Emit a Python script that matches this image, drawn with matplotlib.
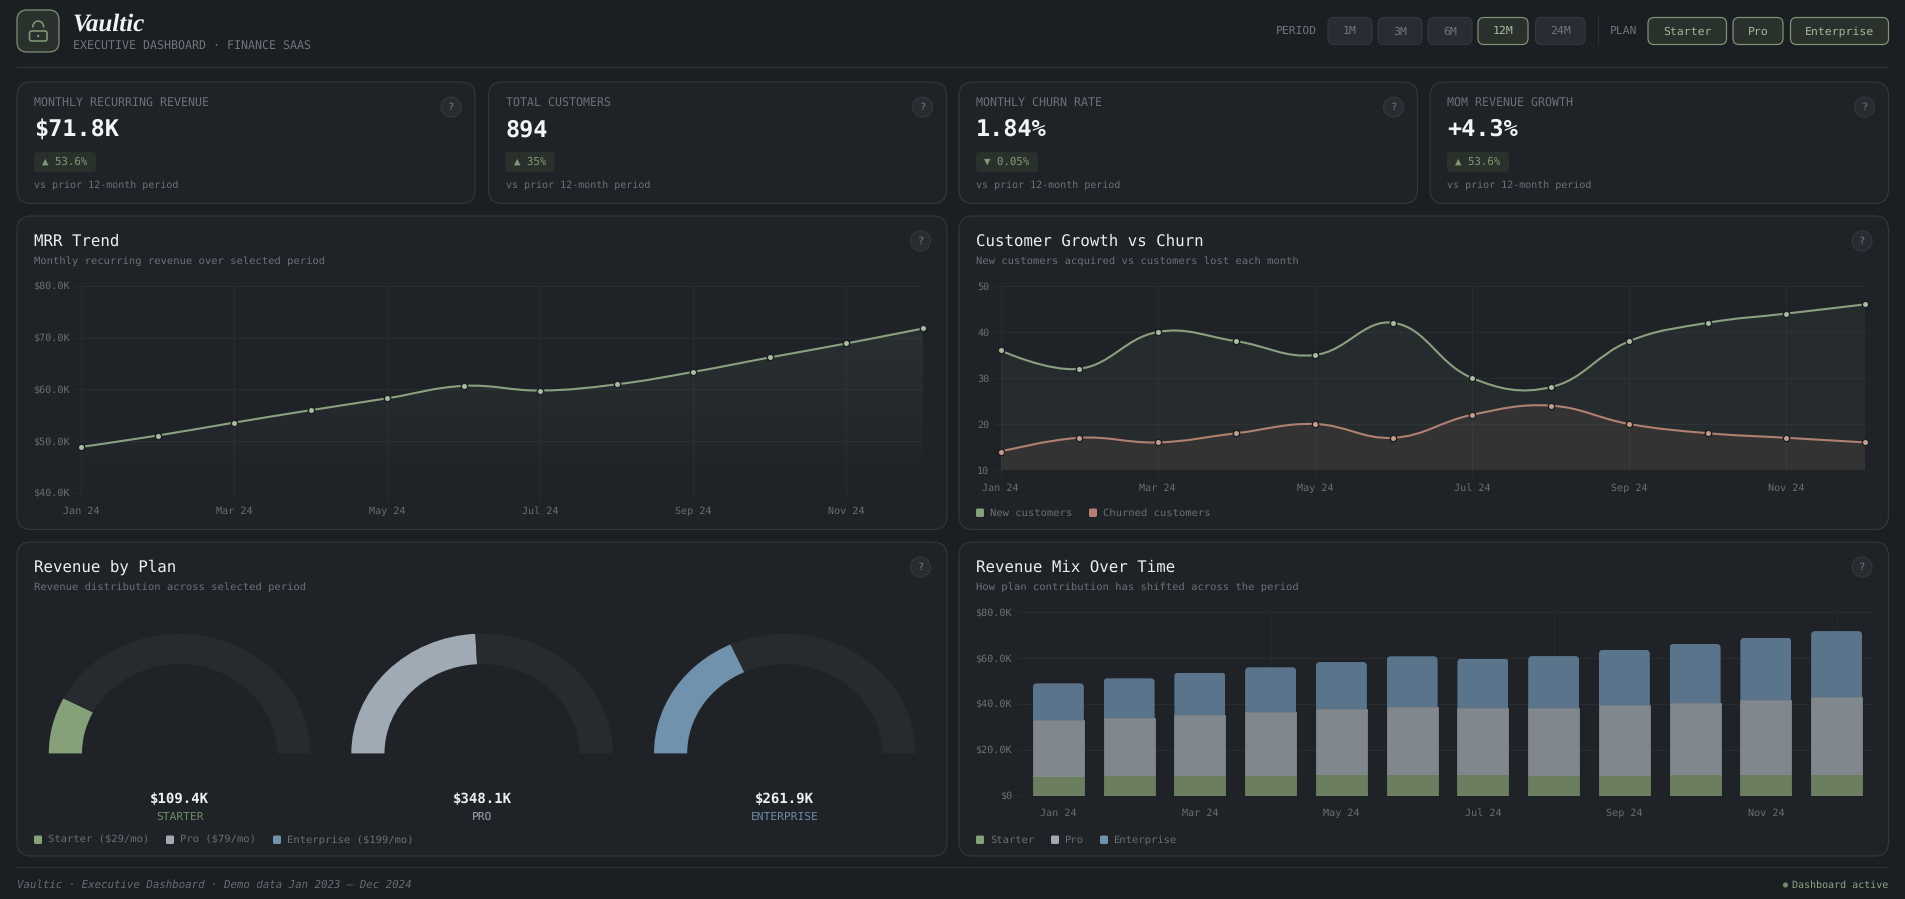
import numpy as np
import matplotlib
matplotlib.use("Agg")
import matplotlib.pyplot as plt
from matplotlib.patches import FancyBboxPatch, PathPatch, Circle, Arc
from matplotlib.path import Path
from matplotlib.transforms import ScaledTranslation

W, H = 1905, 899
BG = "#1b1e22"
CARD = "#1f2328"
CARD_EDGE = "#33373c"
GRID = "#282c31"
GREEN = "#8ba080"
RED = "#b08070"
SLATE = "#a0aab4"
BLUE = "#7092ad"
TICK = "#6c6e6c"
MUTED = "#6b7177"

plt.rcParams["font.family"] = ["DejaVu Sans Mono"]
plt.rcParams["text.hinting"] = "no_hinting"

months = ["Jan 24", "Feb 24", "Mar 24", "Apr 24", "May 24", "Jun 24",
          "Jul 24", "Aug 24", "Sep 24", "Oct 24", "Nov 24", "Dec 24"]
mrr = [48.9, 51.1, 53.6, 56.0, 58.3, 60.7, 59.8, 61.0, 63.4, 66.2, 68.9, 71.8]
new_customers = [36, 32, 40, 38, 35, 42, 30, 28, 38, 42, 44, 46]
churned = [14, 17, 16, 18, 20, 17, 22, 24, 20, 18, 17, 16]
starter_rev = [8.6, 9.0, 9.0, 9.0, 9.5, 9.5, 9.3, 9.0, 9.0, 9.5, 9.5, 9.5]
pro_rev = [24.3, 25.0, 26.2, 27.5, 28.2, 29.2, 29.1, 29.4, 30.6, 30.9, 32.4, 33.4]
ent_rev = [16.1, 17.2, 18.5, 19.5, 20.6, 22.1, 21.4, 22.5, 24.0, 25.8, 27.0, 28.9]
plan_names = ["Starter", "Pro", "Enterprise"]
plan_totals = [109.4, 348.1, 261.9]
plan_total_labels = ["$109.4K", "$348.1K", "$261.9K"]
plan_prices = ["Starter ($29/mo)", "Pro ($79/mo)", "Enterprise ($199/mo)"]
kpi_labels = ["MONTHLY RECURRING REVENUE", "TOTAL CUSTOMERS", "MONTHLY CHURN RATE", "MOM REVENUE GROWTH"]
kpi_values = ["$71.8K", "894", "1.84%", "+4.3%"]
kpi_deltas = ["▲ 53.6%", "▲ 35%", "▼ 0.05%", "▲ 53.6%"]
periods = ["1M", "3M", "6M", "12M", "24M"]

fig = plt.figure(figsize=(W / 100, H / 100), dpi=100, facecolor=BG)
bg = fig.add_axes([0, 0, 1, 1])
bg.set_xlim(0, W)
bg.set_ylim(H, 0)
bg.axis("off")


def box(x0, y0, x1, y1, r, fc, ec, lw=1.0):
    p = FancyBboxPatch((x0 + r, y0 + r), x1 - x0 - 2 * r, y1 - y0 - 2 * r,
                       boxstyle="round,pad=%g,rounding_size=%g" % (r, r),
                       fc=fc, ec=ec, lw=lw * 0.72)
    bg.add_patch(p)


def txt(x, y, s, px, color, ha="left", **kw):
    # baseline anchored so brackets and descenders do not shift a label
    bg.text(x, y + 0.26 * px, s, fontsize=px * 0.72, color=color, ha=ha, va="baseline", **kw)


def help_dot(x, y):
    bg.add_patch(Circle((x, y), 10, fc="#282c31", ec="#363a40", lw=0.72))
    txt(x, y, "?", 10.5, "#747a80", ha="center")


def px_axes(x0, y0, x1, y1):
    a = fig.add_axes([x0 / W, 1 - y1 / H, (x1 - x0) / W, (y1 - y0) / H])
    a.patch.set_alpha(0)
    for s in a.spines.values():
        s.set_visible(False)
    return a


def smooth_path(xs, ys, sx, sy, tension=0.4):
    # same control points as a chart.js line with tension
    pts = np.column_stack([np.array(xs, float) * sx, np.array(ys, float) * sy])
    verts = [pts[0]]
    codes = [Path.MOVETO]
    n = len(pts)
    after = [pts[0]] * n
    before = [pts[-1]] * n
    for i in range(1, n - 1):
        d01 = np.linalg.norm(pts[i] - pts[i - 1])
        d12 = np.linalg.norm(pts[i + 1] - pts[i])
        s = d01 / (d01 + d12)
        diff = pts[i + 1] - pts[i - 1]
        before[i] = pts[i] - tension * s * diff
        after[i] = pts[i] + tension * (1 - s) * diff
    for i in range(n - 1):
        verts += [after[i], before[i + 1], pts[i + 1]]
        codes += [Path.CURVE4] * 3
    verts = np.array(verts) / [sx, sy]
    return verts, codes


def area_line(a, xs, ys, base, sx, sy, color, a_top, a_bot, dot):
    verts, codes = smooth_path(xs, ys, sx, sy)
    closed = np.vstack([verts, [xs[-1], base], [xs[0], base], [xs[0], base]])
    ccodes = codes + [Path.LINETO, Path.LINETO, Path.CLOSEPOLY]
    clip = PathPatch(Path(closed, ccodes), transform=a.transData, fc="none", ec="none")
    a.add_patch(clip)
    rgb = matplotlib.colors.to_rgb(color)
    grad = np.zeros((64, 2, 4))
    grad[..., :3] = rgb
    grad[..., 3] = np.linspace(a_top, a_bot, 64)[:, None]
    lim = a.get_xlim(), a.get_ylim()
    im = a.imshow(grad, extent=[lim[0][0], lim[0][1], lim[1][0], lim[1][1]],
                  origin="upper", aspect="auto", zorder=1.5, interpolation="bilinear")
    im.set_clip_path(clip)
    a.set_xlim(*lim[0])
    a.set_ylim(*lim[1])
    a.add_patch(PathPatch(Path(verts, codes), fc="none", ec=color, lw=1.5, zorder=3,
                          capstyle="round"))
    a.plot(xs, ys, "o", ms=4.6, mfc=dot, mec="#1b1e22", mew=1.0, zorder=4, clip_on=False)


def style_axes(a, pad_x=10.9, pad_y=4):
    a.set_axisbelow(True)
    a.tick_params(axis="both", which="both", colors=GRID, labelcolor=TICK, labelsize=7.3,
                  length=4, width=0.72)
    a.tick_params(axis="x", pad=pad_x)
    a.tick_params(axis="y", pad=pad_y)
    a.grid(True, color=GRID, lw=0.72)


def fix_labels(a):
    down = ScaledTranslation(0, -1.2 / 100, fig.dpi_scale_trans)
    for lab in a.get_yticklabels():
        lab.set_verticalalignment("center")
        lab.set_transform(lab.get_transform() + down)
    for lab in a.get_xticklabels():
        lab.set_verticalalignment("baseline")


# header
box(17, 10, 59, 52, 10, "#2a302b", "#7f9676", 1.2)
box(29.5, 31, 47, 41, 2, "none", "#7f9a74", 1.6)
bg.add_patch(Arc((38.2, 27.5), 11, 13, theta1=180, theta2=360, ec="#7f9a74", lw=1.15))
bg.add_patch(Circle((38.2, 36), 1.2, fc="#7f9a74", ec="none"))
txt(73, 24, "Vaultic", 25, "#f1f2f2", family="Liberation Serif", style="italic", weight="bold")
txt(73, 46.5, "EXECUTIVE DASHBOARD · FINANCE SAAS", 11.6, "#6f757b")
bg.plot([17, 1888], [67, 67], color="#33373c", lw=0.8)

txt(1276, 31, "PERIOD", 11.4, "#6f757b")
period_x = [(1328, 1372), (1378, 1422), (1428, 1472), (1478, 1528), (1535.5, 1585)]
for name, (x0, x1) in zip(periods, period_x):
    active = name == "12M"
    box(x0, 17.5, x1, 44.5, 6, "#2a302b" if active else "#292d33",
        "#7f9676" if active else "#33373d", 1.2)
    txt((x0 + x1) / 2, 31.5, name, 11.5, "#a9bc9f" if active else "#6f757b", ha="center")
bg.plot([1597.5, 1597.5], [16, 45], color="#2c3035", lw=0.8)
txt(1610, 31, "PLAN", 11.4, "#6f757b")
plan_x = [(1648, 1726.5), (1733, 1783), (1790.5, 1888.5)]
for name, (x0, x1) in zip(plan_names, plan_x):
    box(x0, 17.5, x1, 44.5, 6, "#2a302b", "#7f9676", 1.2)
    txt((x0 + x1) / 2, 31.5, name, 11.5, "#a3b699", ha="center")

# kpi cards
kpi_x = [(17, 475), (488.5, 946.5), (959, 1417.5), (1430, 1888.5)]
badge_w = [62, 49, 62, 62]
for i, (x0, x1) in enumerate(kpi_x):
    box(x0, 82, x1, 203.5, 14, CARD, CARD_EDGE, 1.2)
    tx = x0 + 17
    txt(tx, 104, kpi_labels[i], 11.6, MUTED)
    txt(tx, 130, kpi_values[i], 23.5, "#f3f4f5", weight="bold")
    box(tx, 152, tx + badge_w[i], 172, 4, "#2a312c", "none")
    txt(tx + 8, 162, kpi_deltas[i], 10.8, "#7f9a74")
    txt(tx, 185, "vs prior 12-month period", 10, MUTED)
    help_dot(x1 - 24, 107)

# chart cards
chart_cards = [
    (17, 216, 947, 529.5, "MRR Trend", "Monthly recurring revenue over selected period"),
    (959, 216, 1888.5, 529.5, "Customer Growth vs Churn", "New customers acquired vs customers lost each month"),
    (17, 542, 947, 856, "Revenue by Plan", "Revenue distribution across selected period"),
    (959, 542, 1888.5, 856, "Revenue Mix Over Time", "How plan contribution has shifted across the period"),
]
for x0, y0, x1, y1, title, sub in chart_cards:
    box(x0, y0, x1, y1, 14, CARD, CARD_EDGE, 1.2)
    txt(x0 + 17, y0 + 25.5, title, 15.8, "#eceeef")
    txt(x0 + 17, y0 + 45, sub, 10.5, MUTED)
    help_dot(x1 - 26.5, y0 + 25)

# mrr trend
x = np.arange(12)
ax1 = px_axes(81, 286, 923, 493)
ax1.set_xlim(0, 11)
ax1.set_ylim(40, 80)
style_axes(ax1)
ax1.set_yticks([40, 50, 60, 70, 80], ["$40.0K", "$50.0K", "$60.0K", "$70.0K", "$80.0K"])
ax1.set_xticks(x[::2], months[::2])
fix_labels(ax1)
area_line(ax1, x, mrr, 40, 842 / 11, 207 / 40, GREEN, 0.13, 0.0, "#a9bc9f")

# customers
ax2 = px_axes(1000.5, 286, 1865, 470)
ax2.set_xlim(0, 11)
ax2.set_ylim(10, 50)
style_axes(ax2)
ax2.set_yticks([10, 20, 30, 40, 50])
ax2.set_xticks(x[::2], months[::2])
fix_labels(ax2)
area_line(ax2, x, new_customers, 10, 864.5 / 11, 184 / 40, GREEN, 0.07, 0.07, "#a9bc9f")
area_line(ax2, x, churned, 10, 864.5 / 11, 184 / 40, RED, 0.10, 0.10, "#c69c8c")

# gauges
plan_colors = ["#86a079", SLATE, BLUE]
label_colors = ["#6f8a66", "#98a2ac", "#6d8aa3"]
gauge_x = [179.5, 482, 784.7]
total = sum(plan_totals)
for i, cx in enumerate(gauge_x):
    g = px_axes(cx - 130.7, 633.7, cx + 130.7, 753.4)
    share = plan_totals[i] / total
    g.pie([share, 1 - share, 1], startangle=180, counterclock=False, radius=1,
          colors=[plan_colors[i], "#272a2e", "none"],
          wedgeprops={"width": 0.254, "linewidth": 0})
    g.set_aspect("auto")
    g.set_xlim(-1, 1)
    g.set_ylim(0, 1)
    txt(cx, 799, plan_total_labels[i], 14, "#eef0f1", ha="center", weight="bold")
    txt(cx, 817, plan_names[i].upper(), 11.2, label_colors[i], ha="center")


def legend(y, items):
    for sx, tx, label, color in items:
        box(sx, y - 4.5, sx + 8, y + 4, 1.5, color, "none")
        txt(tx, y, label, 10.5, "#696f74")


legend(840, [(34, 48, plan_prices[0], "#86a079"), (166, 180, plan_prices[1], SLATE),
             (273, 287, plan_prices[2], BLUE)])
legend(513, [(976, 989.5, "New customers", "#86a079"), (1089, 1103, "Churned customers", RED)])
legend(840, [(976, 990, plan_names[0], "#86a079"), (1051, 1064.5, plan_names[1], SLATE),
             (1100, 1114, plan_names[2], BLUE)])

# revenue mix
ax3 = px_axes(1023, 612.3, 1872, 795.7)
ax3.set_xlim(-0.5, 11.5)
ax3.set_ylim(0, 80)
style_axes(ax3)
ax3.set_yticks([0, 20, 40, 60, 80], ["$0", "$20.0K", "$40.0K", "$60.0K", "$80.0K"])
ax3.set_xticks(x[::2], months[::2])
fix_labels(ax3)
ax3.tick_params(axis="x", which="major", length=0, pad=14.8)
ax3.set_xticks([3, 7, 11], minor=True)
ax3.xaxis.grid(False, which="major")
ax3.xaxis.grid(True, which="minor", color="#25292e", lw=0.72)
ax3.tick_params(axis="x", which="minor", length=6, color="#25292e")
ax3.bar(x, starter_rev, width=0.72, color="#6b7f60", ec="#75896a", lw=0.5, zorder=2)
ax3.bar(x, pro_rev, width=0.72, bottom=starter_rev, color="#80878d", ec="#889096", lw=0.5, zorder=2)
tops = ax3.bar(x, ent_rev, width=0.72, bottom=np.add(starter_rev, pro_rev),
               color="#5a748c", lw=0, zorder=2)
for r in tops:
    # rounded top corners only, the lower corners sit outside the clip
    rx = 4 / 70.75
    ry = 4 / (183.4 / 80)
    clip = FancyBboxPatch((r.get_x() + rx, r.get_y() - 5), r.get_width() - 2 * rx,
                          r.get_height() + 5 - ry,
                          boxstyle="round,pad=%g,rounding_size=%g" % (rx, rx),
                          mutation_aspect=ry / rx, transform=ax3.transData, fc="none", ec="none")
    r.set_clip_path(clip)

# footer
bg.plot([17, 1888], [867, 867], color="#2e3237", lw=0.8)
txt(17, 885, "Vaultic · Executive Dashboard · Demo data Jan 2023 – Dec 2024", 10.8, "#666c72", style="italic")
bg.add_patch(Circle((1785.5, 885), 2.6, fc="#6f8a66", ec="none"))
txt(1888.5, 885, "Dashboard active", 10, "#8fa784", ha="right")

fig.savefig("out.png", dpi=100, facecolor=BG)
